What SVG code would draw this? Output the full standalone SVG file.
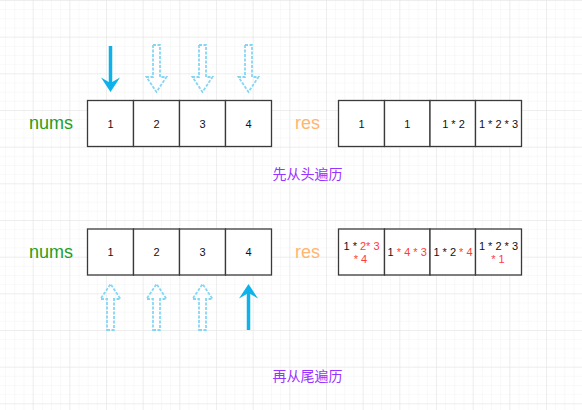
<svg xmlns="http://www.w3.org/2000/svg" width="582" height="410" viewBox="0 0 582 410">
<defs>
<pattern id="minor" patternUnits="userSpaceOnUse" x="32.67" y="0" width="9.1667" height="9.1667">
<path d="M0 0H9.1667M0 0V9.1667" fill="none" stroke="#f3f3f3" stroke-width="1"/>
</pattern>
<pattern id="major" patternUnits="userSpaceOnUse" x="32.67" y="0" width="36.667" height="36.667">
<path d="M0 0H36.667M0 0V36.667" fill="none" stroke="#e4e4e4" stroke-width="1"/>
</pattern>
<style>
.cell{fill:#fff;stroke:#3a3a3a;stroke-width:1.3}
.num{font-family:"Liberation Sans",Arial,sans-serif;font-size:11px;fill:#111;text-anchor:middle}
.red{fill:#ff3b3b}
.lbl{font-family:"Liberation Sans",Arial,sans-serif;font-size:18px;text-anchor:middle}
.nums{fill:#1f9e1f}
.res{fill:#ffb570}
.cap{font-family:"Liberation Sans","Noto Sans CJK SC",sans-serif;font-size:14px;fill:#9933ff;text-anchor:middle}
.solid{fill:#0db2ea}
.shaft{stroke:#0db2ea;stroke-width:3.5}
.dash{fill:none;stroke:#86d5f3;stroke-width:1.8;stroke-dasharray:3 1.5}
</style>
</defs>
<rect width="582" height="410" fill="#fff"/>
<rect width="582" height="410" fill="url(#minor)"/>
<rect width="582" height="410" fill="url(#major)"/>

<g id="nums-top-label"><text class="lbl nums" x="51" y="129">nums</text></g>
<g id="nums-top">
<g id="nt1"><rect class="cell" x="87.5" y="100.5" width="46" height="46"/><text class="num" x="110.5" y="127.5">1</text></g>
<g id="nt2"><rect class="cell" x="133.5" y="100.5" width="46" height="46"/><text class="num" x="156.5" y="127.5">2</text></g>
<g id="nt3"><rect class="cell" x="179.5" y="100.5" width="46" height="46"/><text class="num" x="202.5" y="127.5">3</text></g>
<g id="nt4"><rect class="cell" x="225.5" y="100.5" width="46" height="46"/><text class="num" x="248.5" y="127.5">4</text></g>
</g>
<g id="res-top-label"><text class="lbl res" x="307.5" y="129">res</text></g>
<g id="res-top">
<g id="rt1"><rect class="cell" x="338.5" y="100.5" width="46" height="46"/><text class="num" x="361.5" y="127.5">1</text></g>
<g id="rt2"><rect class="cell" x="384.5" y="100.5" width="45.5" height="46"/><text class="num" x="407.2" y="127.5">1</text></g>
<g id="rt3"><rect class="cell" x="430" y="100.5" width="45.5" height="46"/><text class="num" x="453.5" y="127.5">1 * 2</text></g>
<g id="rt4"><rect class="cell" x="475.5" y="100.5" width="46" height="46"/><text class="num" x="498.5" y="127.5">1 * 2 * 3</text></g>
</g>
<g id="caption-top"><text class="cap" x="307.5" y="178.5">先从头遍历</text></g>

<g id="nums-bottom-label"><text class="lbl nums" x="51" y="257.5">nums</text></g>
<g id="nums-bottom">
<g id="nb1"><rect class="cell" x="87.5" y="229" width="46" height="46"/><text class="num" x="110.5" y="256">1</text></g>
<g id="nb2"><rect class="cell" x="133.5" y="229" width="46" height="46"/><text class="num" x="156.5" y="256">2</text></g>
<g id="nb3"><rect class="cell" x="179.5" y="229" width="46" height="46"/><text class="num" x="202.5" y="256">3</text></g>
<g id="nb4"><rect class="cell" x="225.5" y="229" width="46" height="46"/><text class="num" x="248.5" y="256">4</text></g>
</g>
<g id="res-bottom-label"><text class="lbl res" x="307.5" y="257.5">res</text></g>
<g id="res-bottom">
<g id="rb1"><rect class="cell" x="338.5" y="229" width="46" height="46"/><text class="num" x="361.5" y="249.5">1 * <tspan class="red">2* 3</tspan></text><text class="num red" x="360.5" y="263">* 4</text></g>
<g id="rb2"><rect class="cell" x="384.5" y="229" width="45.5" height="46"/><text class="num" x="407.2" y="256">1 <tspan class="red">* 4 * 3</tspan></text></g>
<g id="rb3"><rect class="cell" x="430" y="229" width="45.5" height="46"/><text class="num" x="453" y="256">1 * 2 <tspan class="red">* 4</tspan></text></g>
<g id="rb4"><rect class="cell" x="475.5" y="229" width="46" height="46"/><text class="num" x="498.5" y="249.5">1 * 2 * 3</text><text class="num red" x="498" y="263">* 1</text></g>
</g>
<g id="caption-bottom"><text class="cap" x="307.5" y="381">再从尾遍历</text></g>

<g id="connectors">
<line class="shaft" x1="110.5" y1="46" x2="110.5" y2="84"/>
<path class="solid" d="M101 77.5L110.5 83L120 77.5L110.5 92Z"/>
<path class="dash" d="M153 45H160V77H166.5L156.5 92L146.5 77H153Z"/>
<path class="dash" d="M199 45H206V77H212.5L202.5 92L192.5 77H199Z"/>
<path class="dash" d="M245 45H252V77H258.5L248.5 92L238.5 77H245Z"/>
<line class="shaft" x1="248.5" y1="330" x2="248.5" y2="291"/>
<path class="solid" d="M239 298.5L248.5 293L258 298.5L248.5 284Z"/>
<path class="dash" d="M107 330H114V299H120.5L110.5 284L100.5 299H107Z"/>
<path class="dash" d="M153 330H160V299H166.5L156.5 284L146.5 299H153Z"/>
<path class="dash" d="M199 330H206V299H212.5L202.5 284L192.5 299H199Z"/>
</g>
</svg>
